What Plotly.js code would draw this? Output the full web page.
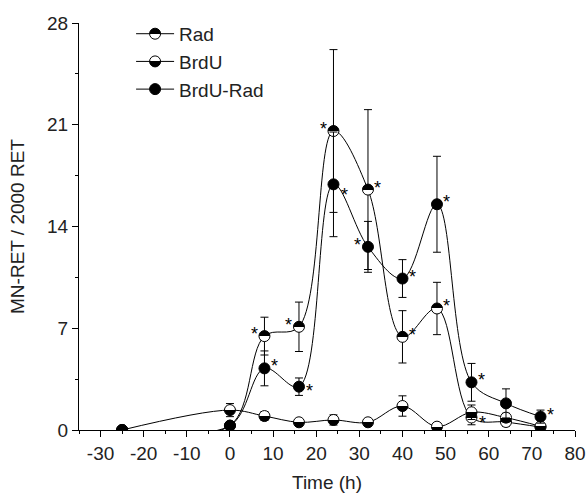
<!DOCTYPE html>
<html><head><meta charset="utf-8">
<script src="https://cdn.plot.ly/plotly-3.0.1.min.js"></script>
<style>html,body{margin:0;padding:0;background:#fff}</style>
</head><body><div id="chart" style="width:587px;height:500px"></div>
<script>
// Data
const time = [-25, 0, 8, 16, 24, 32, 40, 48, 56, 64, 72];
const radMean = [0, 0.3, 6.46, 7.1, 20.57, 16.54, 6.41, 8.36, 0.86, 0.55, 0.2];
const radErr = [0, 0, 1.3, 1.7, 5.6, 5.5, 1.8, 1.8, 0.5, 0.3, 0.1];
const brduMean = [0, 1.37, 0.96, 0.53, 0.69, 0.53, 1.65, 0.23, 1.22, 0.85, 0.25];
const brduErr = [0, 0.45, 0.3, 0.2, 0.35, 0.2, 0.7, 0.1, 0.5, 0.3, 0.1];
const brduRadMean = [0, 0.3, 4.24, 2.98, 16.9, 12.6, 10.42, 15.53, 3.28, 1.83, 0.92];
const brduRadErr = [0, 0, 1.2, 0.6, 3.6, 1.75, 1.3, 3.3, 1.3, 1.0, 0.45];
// significance marks: position of "*" relative to the point
const radStars = ['', '', 'ul', 'ul', 'ul', 'ur', 'ur', 'ur', '', '', ''];
const brduStars = ['', '', '', '', '', '', '', '', 'rd', '', ''];
const brduRadStars = ['', '', 'ur', 'r', 'rd', 'ul', 'ur', 'ur', 'ur', '', 'ur'];
const xTicks = [-30, -20, -10, 0, 10, 20, 30, 40, 50, 60, 70, 80];
const xTickText = ['-30', '-20', '-10', '0', '10', '20', '30', '40', '50', '60', '70', '80'];
const yTicks = [0, 7, 14, 21, 28];

const FONT = 'Arial, "Liberation Sans", Helvetica, sans-serif';

function series(name, y, err, color, gradColor) {
  return {
    type: 'scatter', mode: 'lines+markers', name: name,
    x: time, y: y,
    line: {color: '#000', width: 1, shape: 'spline', smoothing: 1},
    marker: {size: 11, color: color, symbol: 'circle',
      line: {color: '#000', width: 1},
      gradient: gradColor ? {type: 'vertical', color: gradColor} : undefined},
    error_y: {type: 'data', array: err, visible: true, color: '#000', thickness: 1, width: 4},
    cliponaxis: true
  };
}

// Rad: top half black; BrdU: bottom half black (gradient colours tagged to tell them apart)
const traces = [
  series('Rad', radMean, radErr, '#000000', '#fefefe'),
  series('BrdU', brduMean, brduErr, '#ffffff', '#010101'),
  series('BrdU-Rad', brduRadMean, brduRadErr, '#000000', null)
];

const offs = {ul: [-10, 6], ur: [10, 6], r: [11, 0], rd: [11, -7]};
const annotations = [];
[[radMean, radStars], [brduMean, brduStars], [brduRadMean, brduRadStars]].forEach(([ys, st]) => {
  st.forEach((s, i) => {
    if (!s) return;
    annotations.push({x: time[i], y: ys[i], xref: 'x', yref: 'y', text: '*', showarrow: false,
      xshift: offs[s][0], yshift: offs[s][1] - 4, font: {family: FONT, size: 18, color: '#000'}});
  });
});

const layout = {
  width: 587, height: 500,
  margin: {l: 79, r: 12, t: 23, b: 70},
  paper_bgcolor: '#fff', plot_bgcolor: '#fff',
  font: {family: FONT, size: 19, color: '#222'},
  showlegend: true,
  legend: {x: 0.105, y: 1.02, xanchor: 'left', yanchor: 'top', bgcolor: 'rgba(0,0,0,0)',
    font: {family: FONT, size: 19, color: '#222'}, tracegroupgap: 0, itemwidth: 38},
  xaxis: {range: [-35, 80], tickvals: xTicks, ticktext: xTickText, ticks: 'outside', ticklen: 6, tickwidth: 1,
    tickcolor: '#000', showline: true, linecolor: '#000', linewidth: 1, showgrid: false, zeroline: false,
    minor: {dtick: 5, tick0: 0, ticks: 'outside', ticklen: 3, tickcolor: '#000', showgrid: false},
    tickfont: {size: 19}, title: {text: 'Time (h)', font: {size: 19}, standoff: 12}},
  yaxis: {range: [0, 28], tickvals: yTicks, ticks: 'outside', ticklen: 6, tickwidth: 1,
    tickcolor: '#000', showline: true, linecolor: '#000', linewidth: 1, showgrid: false, zeroline: false,
    minor: {dtick: 3.5, tick0: 0, ticks: 'outside', ticklen: 3, tickcolor: '#000', showgrid: false},
    tickfont: {size: 19}, title: {text: 'MN-RET / 2000 RET', font: {size: 19}, standoff: 17}},
  annotations: annotations
};

Plotly.newPlot('chart', traces, layout, {displayModeBar: false, staticPlot: true}).then(() => {
  // make the marker gradients a sharp half/half split (top vs bottom)
  document.querySelectorAll('#chart linearGradient').forEach(g => {
    const stops = g.querySelectorAll('stop');
    if (stops.length < 2) return;
    let isRad = false;
    stops.forEach(s => {
      const c = (s.getAttribute('stop-color') || s.style.stopColor || '');
      if (c.indexOf('254') >= 0 || c.toLowerCase().indexOf('fefefe') >= 0) isRad = true;
    });
    g.setAttribute('x1', '0'); g.setAttribute('y1', '0');
    g.setAttribute('x2', '0'); g.setAttribute('y2', '1');
    g.removeAttribute('gradientTransform');
    const top = isRad ? '#000' : '#fff', bot = isRad ? '#fff' : '#000';
    stops[0].setAttribute('offset', '50%'); stops[0].setAttribute('stop-color', top);
    stops[0].style.stopColor = top; stops[0].setAttribute('stop-opacity', '1'); stops[0].style.stopOpacity = '1';
    stops[stops.length - 1].setAttribute('offset', '50%'); stops[stops.length - 1].setAttribute('stop-color', bot);
    stops[stops.length - 1].style.stopColor = bot; stops[stops.length - 1].setAttribute('stop-opacity', '1');
    stops[stops.length - 1].style.stopOpacity = '1';
  });
});
</script>
</body></html>
